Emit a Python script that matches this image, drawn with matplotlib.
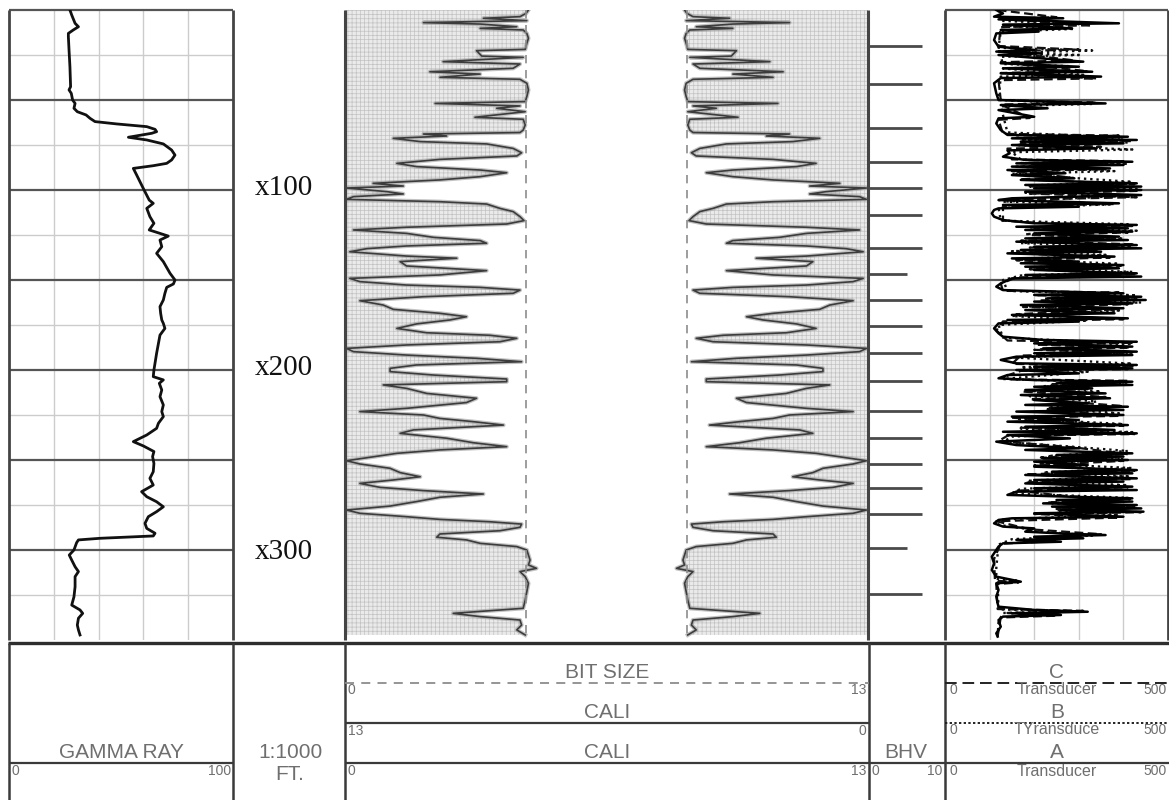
import matplotlib.pyplot as plt
import numpy as np

W, H = 1169, 800
TOP, BASE = 0, 350

# ---- log curves: (depth ft, value) ----
gamma_ray = [
    (0.0, 27.2), (2.8, 28.0), (7.4, 29.5), (9.3, 31.0), (11.1, 28.7), (13.0, 26.5), (14.8, 26.5), (22.2, 26.8),
    (31.5, 27.2), (42.6, 27.5), (44.4, 26.8), (46.3, 27.8), (50.0, 28.4), (51.9, 29.5), (54.6, 29.0), (56.5, 30.5),
    (58.3, 34.4), (60.2, 36.2), (62.0, 38.4), (63.3, 48.1), (64.8, 61.5), (66.3, 65.2), (67.6, 65.9), (68.5, 63.7),
    (70.7, 53.3), (72.2, 61.5), (74.4, 68.9), (77.8, 72.6), (80.6, 74.1), (83.3, 72.6), (85.2, 70.4), (86.5, 64.4),
    (88.0, 55.5), (91.7, 57.0), (100.0, 60.3), (105.6, 62.6), (107.4, 64.4), (110.2, 61.5), (114.8, 62.9),
    (118.5, 64.7), (122.2, 62.6), (123.5, 65.9), (125.6, 71.1), (127.8, 67.4), (131.5, 68.2), (135.2, 65.9),
    (139.8, 68.9), (146.3, 71.9), (150.0, 74.1), (152.2, 73.4), (154.1, 70.4), (157.4, 69.6), (161.1, 68.9),
    (164.8, 67.4), (168.5, 67.7), (172.2, 68.2), (174.1, 68.9), (176.9, 69.6), (180.6, 67.4), (190.7, 65.9),
    (200.0, 64.7), (203.7, 64.4), (205.5, 68.9), (207.4, 67.1), (211.1, 68.2), (214.8, 67.4), (219.4, 68.9),
    (223.1, 68.2), (225.9, 68.9), (229.6, 66.7), (232.4, 65.9), (236.1, 61.5), (239.8, 55.5), (242.2, 60.0),
    (245.3, 64.7), (248.1, 64.1), (251.9, 64.7), (256.5, 64.4), (260.2, 62.9), (263.9, 64.4), (267.6, 59.2),
    (270.4, 61.5), (273.2, 65.9), (276.0, 68.9), (278.7, 65.9), (281.5, 62.2), (285.2, 60.7), (288.0, 61.5),
    (290.7, 65.2), (292.2, 64.4), (293.5, 40.6), (294.4, 31.0), (295.9, 30.2), (300.0, 29.0), (302.8, 26.9),
    (305.6, 28.0), (309.3, 29.5), (312.0, 31.0), (314.8, 29.5), (320.4, 29.5), (326.0, 29.0), (330.6, 28.0),
    (333.3, 31.7), (335.2, 32.9), (337.9, 31.0), (341.7, 30.5), (344.4, 31.0), (347.2, 31.7),
]

caliper = [
    (0.0, 8.44), (1.9, 8.50), (3.7, 8.65), (4.6, 9.56), (5.9, 8.48), (7.0, 11.05), (7.8, 9.64), (9.3, 8.73),
    (10.2, 9.64), (11.1, 8.57), (13.0, 8.48), (15.7, 8.44), (18.5, 8.48), (21.9, 8.52), (22.6, 9.73), (25.6, 9.60),
    (26.3, 8.57), (28.7, 10.56), (30.0, 8.65), (32.4, 8.82), (34.3, 10.89), (35.6, 9.64), (37.4, 10.64), (38.5, 8.65),
    (40.7, 8.48), (44.4, 8.44), (48.1, 8.48), (50.9, 8.52), (51.9, 10.76), (53.3, 8.65), (54.6, 9.23), (56.5, 8.52),
    (59.6, 9.77), (60.7, 8.57), (63.9, 8.52), (66.7, 8.57), (68.1, 8.65), (68.9, 11.05), (70.0, 10.47), (71.3, 11.80),
    (73.1, 11.13), (74.4, 9.48), (76.9, 8.82), (79.3, 8.61), (81.1, 8.73), (83.0, 10.64), (85.2, 11.71), (87.0, 11.22),
    (88.9, 9.64), (90.4, 8.98), (92.6, 9.64), (94.4, 10.64), (96.3, 12.30), (97.8, 11.55), (98.9, 12.96),
    (100.9, 11.96), (102.2, 11.55), (103.7, 12.79), (105.2, 12.96), (106.5, 10.64), (107.8, 9.48), (110.2, 9.15),
    (112.0, 8.82), (114.8, 8.65), (117.0, 8.55), (118.9, 8.98), (120.7, 11.47), (122.2, 12.79), (124.1, 11.47),
    (126.3, 10.80), (128.1, 9.64), (129.6, 9.48), (131.1, 11.47), (132.6, 12.46), (134.3, 12.88), (136.7, 11.47),
    (137.9, 10.22), (139.8, 11.63), (142.2, 11.47), (144.8, 9.48), (147.2, 10.64), (149.1, 12.88), (150.9, 12.63),
    (152.8, 11.47), (154.1, 9.64), (155.6, 8.65), (157.4, 8.82), (159.3, 11.05), (161.5, 12.63), (163.9, 12.05),
    (166.3, 11.80), (168.5, 10.64), (170.4, 9.98), (172.2, 10.39), (174.4, 11.22), (176.9, 11.71), (179.3, 10.97),
    (180.7, 9.40), (182.4, 8.73), (184.3, 9.15), (186.1, 11.47), (188.0, 12.96), (189.8, 12.79), (191.7, 11.47),
    (193.5, 9.73), (195.4, 8.61), (197.2, 11.22), (199.1, 11.88), (200.9, 11.88), (202.8, 10.80), (205.0, 8.98),
    (206.5, 8.98), (208.3, 12.05), (210.2, 11.47), (213.0, 10.97), (215.7, 9.73), (218.1, 9.98), (221.3, 11.47),
    (223.1, 12.63), (225.0, 11.05), (226.9, 10.64), (228.7, 9.81), (230.6, 9.06), (233.3, 11.30), (235.2, 11.63),
    (237.9, 10.47), (240.4, 9.81), (242.6, 8.98), (244.4, 10.64), (246.3, 11.71), (248.5, 12.38), (250.4, 12.96),
    (252.2, 12.63), (254.6, 11.88), (257.0, 11.63), (259.3, 11.13), (261.1, 11.80), (263.0, 12.63), (265.2, 12.13),
    (267.0, 11.05), (268.9, 9.56), (270.7, 10.64), (273.1, 11.22), (275.6, 11.88), (277.8, 12.96), (279.6, 12.63),
    (281.5, 11.47), (283.0, 10.64), (284.3, 9.40), (285.6, 8.61), (287.4, 8.65), (289.3, 9.15), (291.1, 10.64),
    (292.9, 10.72), (294.4, 9.98), (296.3, 9.64), (298.1, 8.73), (300.0, 8.48), (302.8, 8.44), (305.6, 8.40),
    (308.3, 8.44), (310.2, 8.24), (312.0, 8.65), (314.8, 8.52), (318.5, 8.44), (323.1, 8.48), (327.8, 8.52),
    (332.4, 8.57), (335.2, 10.31), (337.0, 9.64), (338.9, 8.65), (341.7, 8.61), (344.4, 8.73), (347.2, 8.52),
]
bit_size = 8.5

bhv_depth = [20.0, 41.1, 65.6, 84.4, 98.9, 113.9, 132.2, 146.7, 161.1, 175.6,
             190.6, 206.1, 222.8, 237.8, 252.2, 265.6, 280.0, 298.9, 324.4]
bhv_value = [7, 7, 7, 7, 7, 7, 7, 5, 7, 7,
             7, 7, 7, 7, 7, 7, 7, 5, 7]

transducer_a = [
    (0, 115), (1.9, 130), (3.7, 110), (4.6, 265), (5.2, 120), (7.4, 390), (8.1, 130), (10.2, 285), (11.1, 125),
    (12.0, 210), (13.0, 115), (16.7, 110), (20.4, 120), (22.2, 200), (23.1, 115), (24.1, 215), (25.0, 120),
    (28.7, 310), (29.6, 125), (31.5, 300), (32.4, 130), (34.3, 330), (35.2, 125), (37.0, 350), (37.8, 125),
    (40.7, 110), (46.3, 115), (50.0, 120), (51.9, 360), (52.8, 125), (54.6, 230), (55.6, 120), (59.3, 200),
    (60.2, 120), (63.0, 115), (66.7, 125), (69.4, 140), (70.4, 410), (71.3, 150), (72.2, 430), (73.1, 170),
    (74.1, 400), (75.0, 150), (76.9, 340), (78.0, 140), (79.6, 145), (81.5, 130), (83.3, 180), (84.3, 420),
    (85.2, 160), (86.1, 400), (87.0, 150), (88.0, 370), (88.9, 140), (90.7, 270), (91.7, 150), (93.5, 290),
    (94.4, 170), (96.3, 430), (97.2, 180), (98.1, 440), (99.1, 200), (100.0, 440), (100.9, 180), (102.8, 440),
    (104.6, 150), (105.6, 120), (107.4, 390), (108.3, 130), (109.3, 300), (110.2, 120), (111.1, 110), (113.0, 105),
    (114.8, 110), (116.7, 130), (118.5, 200), (119.4, 430), (120.4, 160), (121.3, 410), (122.2, 180), (123.1, 420),
    (124.1, 200), (125.9, 390), (126.9, 180), (127.8, 410), (128.7, 160), (130.6, 430), (131.5, 200), (132.4, 440),
    (133.3, 170), (134.3, 350), (135.2, 140), (137.0, 380), (138.0, 150), (139.8, 300), (140.7, 170), (141.7, 400),
    (142.6, 180), (143.5, 390), (144.4, 200), (146.3, 430), (147.2, 180), (148.1, 440), (149.1, 150), (151.9, 125),
    (153.7, 115), (155.6, 130), (157.4, 400), (158.3, 200), (159.3, 440), (160.2, 230), (161.1, 450), (162.0, 200),
    (163.0, 420), (163.9, 170), (165.7, 400), (166.7, 180), (168.5, 380), (169.4, 150), (171.3, 410), (172.2, 140),
    (173.1, 300), (174.1, 120), (176.9, 110), (179.6, 120), (181.5, 130), (183.3, 220), (184.3, 430), (185.2, 200),
    (187.0, 420), (188.0, 220), (189.8, 430), (190.7, 200), (191.7, 420), (192.6, 160), (194.4, 125), (196.3, 160),
    (197.2, 430), (198.1, 200), (199.1, 420), (200.0, 160), (201.9, 300), (202.8, 140), (204.6, 120), (205.6, 200),
    (206.5, 420), (207.4, 250), (208.3, 420), (209.3, 200), (210.2, 330), (211.1, 180), (213.0, 360), (213.9, 170),
    (215.7, 370), (216.7, 200), (218.5, 320), (219.4, 180), (220.4, 410), (221.3, 240), (222.2, 400), (223.1, 160),
    (225.0, 400), (225.9, 150), (227.8, 300), (228.7, 140), (230.6, 410), (231.5, 180), (233.3, 380), (234.3, 130),
    (235.2, 430), (236.1, 140), (238.0, 280), (239.8, 115), (241.7, 160), (243.5, 300), (244.4, 180), (246.3, 420),
    (247.2, 250), (248.1, 400), (249.1, 220), (250.0, 410), (250.9, 200), (252.8, 320), (253.7, 200), (255.6, 430),
    (256.5, 240), (257.4, 420), (258.3, 180), (260.2, 430), (261.1, 200), (262.0, 400), (263.0, 180), (264.8, 420),
    (265.7, 200), (266.7, 430), (267.6, 160), (269.4, 140), (270.4, 280), (271.3, 420), (272.2, 250), (273.1, 420),
    (274.1, 220), (275.0, 430), (275.9, 240), (276.9, 440), (277.8, 260), (278.7, 445), (279.6, 200), (281.5, 400),
    (282.4, 150), (283.3, 120), (285.2, 110), (287.0, 130), (288.0, 200), (289.8, 180), (290.7, 250), (291.7, 360),
    (292.6, 200), (293.5, 310), (294.4, 160), (295.4, 260), (296.3, 130), (298.1, 120), (300.0, 115), (303.7, 105),
    (307.4, 110), (311.1, 105), (314.8, 115), (317.6, 170), (318.5, 115), (322.2, 120), (325.9, 115), (329.6, 118),
    (331.5, 120), (333.3, 200), (334.3, 320), (335.2, 150), (336.1, 260), (337.0, 130), (338.9, 120), (342.6, 125),
    (346.3, 115), (348.1, 118),
]

transducer_b = [
    (0, 120), (6, 125), (7.8, 300), (9, 130), (10.5, 290), (12, 125), (21, 120), (22.5, 330), (23.8, 140), (25, 300),
    (26, 125), (30, 130), (31.2, 280), (32.5, 130), (36, 310), (37, 125), (50, 120), (52.2, 330), (53.5, 125),
    (68, 140), (70.9, 400), (72, 170), (73.6, 410), (75, 160), (77.5, 420), (79, 150), (83, 170), (85.5, 410),
    (87, 160), (89.5, 380), (91, 150), (95.5, 420), (97.5, 190), (99.5, 430), (101.5, 180), (103, 420), (106.5, 130),
    (108, 370), (110, 120), (117, 125), (119, 410), (120.8, 190), (122.6, 430), (124.5, 180), (127, 400),
    (129.5, 170), (131.8, 420), (134, 150), (136, 360), (138.5, 160), (141, 390), (143, 190), (145.5, 420),
    (147.5, 170), (150, 130), (156, 140), (158.5, 430), (160.5, 220), (162.5, 440), (164.5, 170), (167, 390),
    (170, 150), (172.5, 320), (175, 120), (182, 130), (185.5, 420), (188.5, 210), (191, 410), (193, 150),
    (196.5, 420), (198.5, 170), (201, 320), (205, 130), (207, 410), (209, 220), (212, 350), (214.5, 190),
    (217.5, 340), (221, 230), (224, 390), (227, 160), (230, 400), (232.5, 170), (234.5, 420), (237, 150),
    (240, 130), (242.5, 280), (245, 410), (247.8, 230), (249.5, 400), (252, 210), (254.5, 420), (257, 220),
    (259, 410), (261.5, 190), (264, 410), (266, 170), (268.5, 150), (271, 410), (274, 240), (276, 430), (278, 250),
    (280.5, 390), (283, 130), (286, 120), (290, 230), (292, 330), (294, 150), (297, 120), (310, 115), (316, 115),
    (317, 160), (318, 118), (333, 120), (334, 300), (335, 130), (340, 120), (348, 118),
]

transducer_c = [
    (0, 118), (4, 250), (5, 120), (8.5, 330), (9.5, 125), (20, 120), (22, 300), (23, 120), (28, 290), (29, 125),
    (34, 320), (35, 125), (38, 340), (39, 120), (50, 125), (51.5, 340), (52.5, 125), (60, 190), (61, 120),
    (68.8, 130), (69.8, 390), (71, 160), (72.8, 420), (74, 170), (76, 350), (77, 140), (83, 150), (84, 400), (85, 170),
    (88.5, 360), (89.5, 150), (93, 280), (94, 170), (96.8, 425), (98, 190), (100.5, 430), (102, 190), (104, 430),
    (105.5, 140), (107.8, 380), (109, 130), (117, 130), (118, 190), (120, 420), (121.8, 200), (123.6, 410), (125, 190),
    (126.5, 380), (128.2, 170), (130.2, 425), (132, 190), (133.5, 340), (135, 150), (137.5, 370), (139, 160),
    (142, 395), (144, 190), (146.8, 425), (148.6, 160), (152, 125), (156, 130), (157, 390), (158.4, 200),
    (159.8, 430), (161.5, 210), (163.5, 410), (165, 175), (166.2, 390), (169, 160), (171.8, 400), (173, 130),
    (178, 115), (183.6, 140), (184.8, 425), (186, 210), (187.5, 415), (188.8, 200), (190.2, 420), (192, 170),
    (196.6, 150), (197.8, 425), (198.6, 200), (199.5, 410), (200.5, 170), (203, 140), (205.2, 150), (206, 410),
    (208, 240), (210.6, 320), (212, 175), (215, 360), (216.2, 190), (220, 400), (221.8, 230), (225.5, 390),
    (226.5, 150), (231, 400), (232, 170), (235.6, 425), (236.5, 140), (239.5, 120), (243, 290), (246.8, 410),
    (248.6, 215), (250.5, 400), (253, 200), (256, 425), (258, 180), (260.6, 420), (262.5, 180), (265.2, 410),
    (267, 160), (270, 270), (271.8, 415), (273.6, 230), (275.5, 425), (277.2, 250), (279, 440), (280, 200),
    (282, 390), (284, 115), (288.5, 190), (291.2, 350), (293, 200), (295, 250), (296.5, 125), (305, 110),
    (317, 112), (318, 165), (319, 115), (332.8, 118), (333.8, 310), (335, 140), (336.5, 250), (337.5, 125),
    (348, 118),
]

depth_labels = ['x100', 'x200', 'x300']
depth_label_at = [99, 199, 301]

plt.rcParams['hatch.linewidth'] = 0.5

fig = plt.figure(figsize=(W / 100, H / 100), dpi=100)


def add_track(x0, x1, y0=10, y1=640):
    ax = fig.add_axes([x0 / W, 1 - y1 / H, (x1 - x0) / W, (y1 - y0) / H])
    ax.set_ylim(BASE, TOP)
    ax.axis('off')
    return ax


def draw_grid(ax, xmax):
    step = xmax / 5
    ax.vlines([step * i for i in range(1, 5)], TOP, BASE, color='#cccccc', lw=1.0)
    ax.hlines(np.arange(25, BASE, 50), 0, xmax, color='#cccccc', lw=1.0)
    ax.hlines(np.arange(0, BASE, 50), 0, xmax, color='#555555', lw=1.6, clip_on=False)
    ax.vlines([0, xmax], TOP, BASE, color='#444444', lw=2.0, clip_on=False)


# gamma ray
ax_gr = add_track(9, 233)
ax_gr.set_xlim(0, 100)
draw_grid(ax_gr, 100)
d, v = zip(*gamma_ray)
ax_gr.plot(v, d, color='#111111', lw=2.0)

# depth column
ax_dp = add_track(233, 345)
ax_dp.set_xlim(0, 1)
for lab, dd in zip(depth_labels, depth_label_at):
    ax_dp.text(0.19, dd, lab, ha='left', va='center', fontsize=21,
               family='Liberation Serif', color='#111111')

# mirrored caliper, left half reads 13 -> 0, right half 0 -> 13
d, c = zip(*caliper)
ax_cl = add_track(345, 868)
ax_cl.set_xlim(13, 0)
ax_cr = add_track(345, 868)
ax_cr.set_xlim(0, 13)
for ax, edge in [(ax_cl, 13), (ax_cr, 13)]:
    ax.fill_betweenx(d, edge, c, facecolor='#eaeaea', edgecolor='#c2c2c2',
                     hatch='++++', linewidth=0)
    ax.plot(c, d, color='#9a9a9a', lw=3.0, alpha=0.6, solid_joinstyle='round')
    ax.plot(c, d, color='#3c3c3c', lw=1.2, solid_joinstyle='round')
    ax.vlines(bit_size, TOP, BASE, color='#8c8c8c', lw=1.2, linestyles=(0, (5, 4)))
    ax.vlines(edge, TOP, BASE, color='#444444', lw=2.2, clip_on=False)

# BHV ticks
ax_bhv = add_track(869, 945)
ax_bhv.set_xlim(0, 10)
ax_bhv.hlines(bhv_depth, 0, bhv_value, color='#4a4a4a', lw=2.0)

# transducers
ax_tr = add_track(945, 1168)
ax_tr.set_xlim(0, 500)
draw_grid(ax_tr, 500)
d, v = zip(*transducer_c)
ax_tr.plot(v, d, color='#111111', lw=1.6, ls=(0, (4, 2)))
d, v = zip(*transducer_b)
ax_tr.plot(v, d, color='#111111', lw=1.7, ls=':')
d, v = zip(*transducer_a)
ax_tr.plot(v, d, color='#000000', lw=1.8)

# ---- header block ----
hdr = fig.add_axes([0, 0, 1, 1])
hdr.set_xlim(0, W)
hdr.set_ylim(H, 0)
hdr.axis('off')

line_c = '#3a3a3a'
txt_c = '#6f6f6f'
font = 'Liberation Sans'

hdr.hlines(643, 8, W, color='#2e2e2e', lw=2.4)
hdr.vlines([9, 233, 345, 869, 945], 643, H, color=line_c, lw=1.8)
hdr.hlines(763, 9, 233, color=line_c, lw=1.6)
hdr.hlines(763, 345, W, color=line_c, lw=1.6)
hdr.hlines(723, 345, 869, color=line_c, lw=1.6)
hdr.hlines(683, 345, 869, color='#8c8c8c', lw=1.3, linestyles=(0, (5, 4)))
hdr.hlines(683, 945, W, color='#222222', lw=1.4, linestyles=(0, (6, 3)))
hdr.hlines(723, 945, W, color='#222222', lw=1.4, linestyles=(0, (1.2, 1.2)))


def label(x, y, s, size=15, ha='center'):
    hdr.text(x, y, s, ha=ha, va='center', fontsize=size, family=font, color=txt_c)


label(121, 752, 'GAMMA RAY')
label(12, 771, '0', 10, 'left')
label(231, 771, '100', 10, 'right')
label(290, 752, '1:1000')
label(290, 775, 'FT.')

label(607, 673, 'BIT SIZE')
label(607, 713, 'CALI')
label(607, 753, 'CALI')
for y, lo, hi in [(690, '0', '13'), (731, '13', '0'), (771, '0', '13')]:
    label(348, y, lo, 10, 'left')
    label(866, y, hi, 10, 'right')

label(906, 752, 'BHV')
label(872, 771, '0', 10, 'left')
label(942, 771, '10', 10, 'right')

for y_head, y_sub, head, sub in [(672, 690, 'C', 'Transducer'),
                                 (712, 730, 'B', 'TYransduce'),
                                 (752, 771, 'A', 'Transducer')]:
    label(1057, y_head, head, 15)
    label(1057, y_sub, sub, 11.5)
    label(949, y_sub, '0', 10, 'left')
    label(1167, y_sub, '500', 10, 'right')

fig.savefig('out.png', dpi=100)
